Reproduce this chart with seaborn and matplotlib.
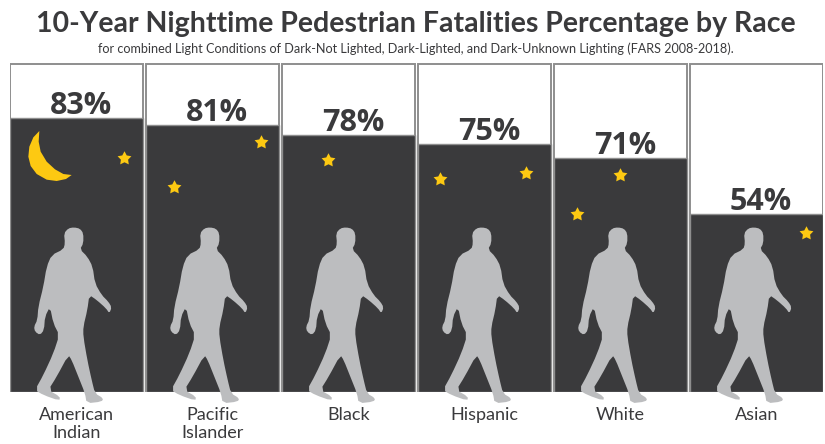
import matplotlib
matplotlib.use('Agg')
import numpy as np
import pandas as pd
import matplotlib.pyplot as plt
import seaborn as sns
from matplotlib.patches import Polygon
from matplotlib.path import Path

races = ['American\nIndian', 'Pacific\nIslander', 'Black', 'Hispanic', 'White', 'Asian']
percent = [83, 81, 78, 75, 71, 54]
full = [99.4, 99.4, 99.4, 99.4, 99.4, 99.4]

sns.set_theme(style='white')
plt.rcParams['font.family'] = ['Lato', 'Noto Sans', 'DejaVu Sans']

TEXT = '#3a3a3c'
DARK = '#3a3a3c'
EDGE = '#8e8e8e'
GREY = '#bcbdbf'
GOLD = '#fdc912'

W, H = 825, 444
fig = plt.figure(figsize=(W / 100, H / 100), dpi=100)
ax = fig.add_axes([10 / W, 1 - 392 / H, 813 / W, 330 / H])

df = pd.DataFrame({'race': races, 'percent': percent, 'full': full})
sns.barplot(data=df, x='race', y='full', color='white', edgecolor=EDGE, linewidth=1.4,
            width=0.978, saturation=1, ax=ax)
sns.barplot(data=df, x='race', y='percent', color=DARK, edgecolor=EDGE, linewidth=1.0,
            width=0.978, saturation=1, ax=ax)
ax.set_xlim(-0.489, 5.489)
ax.set_ylim(0, 100)
ax.set_xlabel('')
ax.set_ylabel('')
ax.set_yticks([])
ax.tick_params(axis='x', length=0, pad=11, labelsize=13, labelcolor=TEXT)
for lab in ax.get_xticklabels():
    lab.set_linespacing(1.15)
sns.despine(ax=ax, left=True, right=True, top=True, bottom=True)


# helpers to go from reference pixels (relative to panel) to data coords
def to_x(i, px):
    return i + (px - 76.5) / 136


def to_y(py):
    return (392 - py) / 3.3


def smooth(pts, rounds=1):
    # corner cutting so the traced outlines lose their hard corners
    for _ in range(rounds):
        nxt = np.roll(pts, -1, axis=0)
        pts = np.column_stack([0.75 * pts + 0.25 * nxt, 0.25 * pts + 0.75 * nxt]).reshape(-1, 2)
    return pts


for i, v in enumerate(percent):
    ax.annotate(f'{v}%', (i, v), xytext=(4.5, -3), textcoords='offset pixels', ha='center',
                va='bottom', fontsize=22, fontweight='bold', color=TEXT,
                family=['Open Sans', 'DejaVu Sans'])

# walking figure outline, traced in pixels of the first panel
person = np.array([
    (222, 22), (240, 26), (250, 40), (250, 70), (240, 88), (262, 110), (278, 140), (285, 190),
    (305, 225), (325, 245), (335, 262), (328, 280), (318, 265), (290, 240), (268, 225),
    (262, 270), (250, 320), (250, 350), (262, 420), (275, 480), (285, 520), (310, 535),
    (305, 545), (260, 550), (255, 520), (235, 470), (215, 420), (205, 405), (170, 470),
    (145, 510), (180, 530), (178, 542), (130, 525), (105, 510), (130, 465), (160, 400),
    (178, 345), (160, 310), (150, 260), (135, 290), (132, 330), (120, 345), (105, 335),
    (102, 320), (112, 300), (115, 260), (130, 200), (140, 140), (155, 105), (190, 88),
    (195, 70), (192, 40), (205, 25),
]) / 3 + (0, 220)
person = smooth(person)
for i in range(len(races)):
    pts = np.column_stack([to_x(i, person[:, 0]), to_y(person[:, 1])])
    ax.add_patch(Polygon(pts, closed=True, fc=GREY, ec='none', clip_on=False, zorder=4))

# crescent moon
moon = np.array([
    (118, 243), (100, 262), (88, 290), (85, 320), (92, 348), (110, 372), (140, 389), (170, 393),
    (198, 387), (215, 375), (190, 372), (165, 358), (140, 335), (122, 305), (116, 275),
]) / 3 + (0, 50)
ax.add_patch(Polygon(np.column_stack([to_x(0, moon[:, 0]), to_y(moon[:, 1])]), closed=True,
                     fc=GOLD, ec='none', zorder=4))

# stars: panel, x pixel, y pixel
star_panel = [0, 1, 1, 2, 3, 3, 4, 4, 5]
star_px = [124, 125, 38, 56, 32, 118, 76, 33, 126]
star_py = [158, 142, 187, 160, 179, 173, 175, 214, 233]
star_df = pd.DataFrame({
    'x': [p + (a - 76.5) / 136 for p, a in zip(star_panel, star_px)],
    'y': [to_y(b) for b in star_py],
})
ang = np.pi / 2 + np.arange(10) * np.pi / 5
rad = np.where(np.arange(10) % 2 == 0, 1.0, 0.52)
star = np.column_stack([rad * np.cos(ang), rad * np.sin(ang)])
star_marker = Path(np.vstack([star, star[0]]), closed=True)
sns.scatterplot(data=star_df, x='x', y='y', marker=star_marker, s=110, color=GOLD, linewidth=0,
                zorder=5, ax=ax)
ax.set_xlabel('')
ax.set_ylabel('')

fig.text(416 / W, 1 - 24 / H, '10-Year Nighttime Pedestrian Fatalities Percentage by Race',
         ha='center', va='center', fontsize=20.5, fontweight='bold', color=TEXT)
fig.text(416 / W, 1 - 49 / H,
         'for combined Light Conditions of Dark-Not Lighted, Dark-Lighted, and '
         'Dark-Unknown Lighting (FARS 2008-2018).',
         ha='center', va='center', fontsize=9.1, color=TEXT)

fig.savefig('out.png', dpi=100)
